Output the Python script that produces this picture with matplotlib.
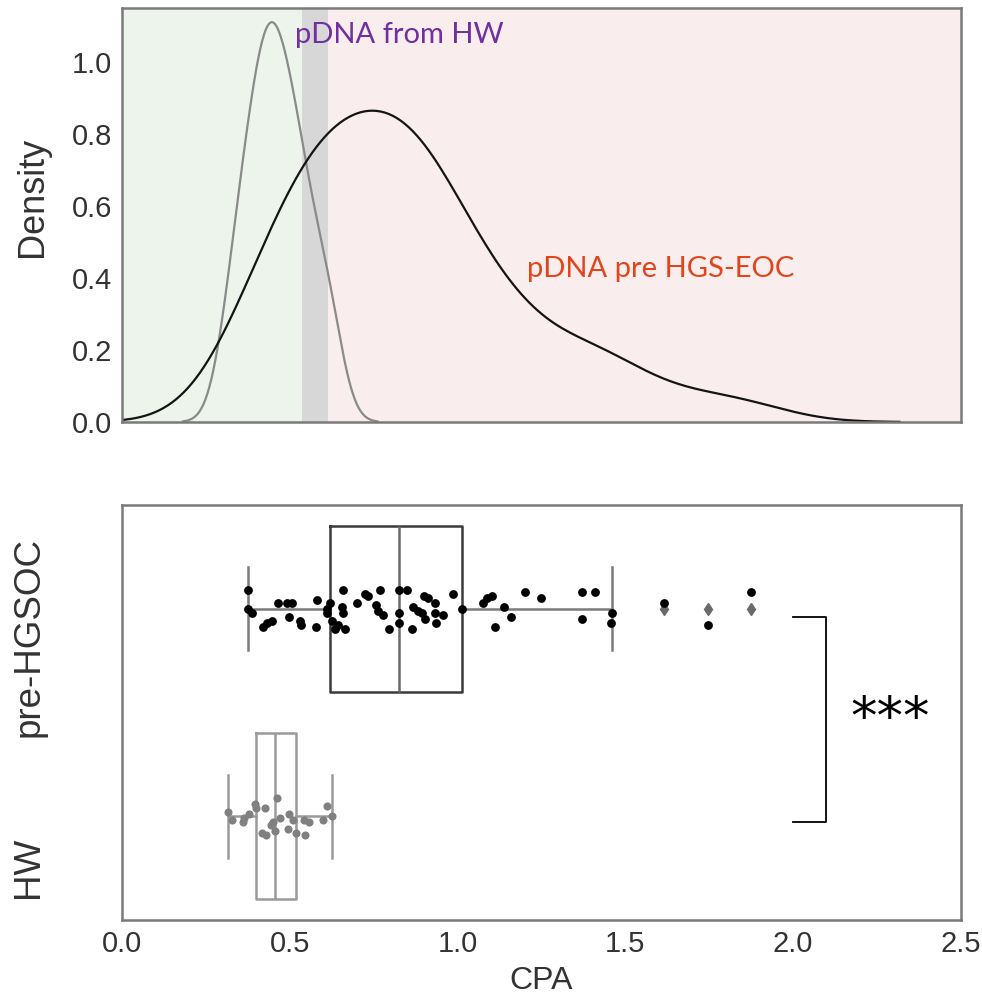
import numpy as np
import pandas as pd
import matplotlib
matplotlib.use('Agg')
import matplotlib.pyplot as plt
import seaborn as sns

plt.rcParams['font.family'] = ['Liberation Sans', 'DejaVu Sans']

# CPA values
pre_cpa = [0.375, 0.375, 0.386, 0.421, 0.431, 0.446, 0.466, 0.491, 0.506, 0.499,
           0.530, 0.533, 0.578, 0.580, 0.610, 0.612, 0.620, 0.625, 0.635, 0.645,
           0.664, 0.659, 0.655, 0.658, 0.699, 0.724, 0.734, 0.769, 0.757, 0.764,
           0.777, 0.796, 0.826, 0.848, 0.826, 0.826, 0.863, 0.868, 0.883, 0.893,
           0.903, 0.900, 0.913, 0.933, 0.933, 0.957, 0.936, 0.987, 1.012, 1.077,
           1.089, 1.102, 1.138, 1.158, 1.112, 1.201, 1.248, 1.370, 1.410, 1.370,
           1.459, 1.456, 1.615, 1.745, 1.874]
# vertical jitter of each point (category units), as seen in the picture
pre_jit = [-0.09, 0.00, 0.02, 0.09, 0.07, 0.06, -0.03, -0.03, -0.03, 0.04,
           0.06, 0.08, 0.09, -0.04, 0.00, 0.02, -0.03, 0.06, 0.10, 0.08,
           0.10, -0.09, -0.01, 0.02, -0.03, -0.07, -0.06, -0.09, -0.02, 0.01,
           0.03, 0.10, -0.09, -0.09, 0.02, 0.07, 0.10, -0.01, 0.01, 0.02,
           0.05, -0.06, -0.05, -0.03, 0.02, 0.03, 0.07, -0.07, 0.00, -0.03,
           -0.05, -0.06, -0.01, 0.04, 0.09, -0.08, -0.05, -0.08, -0.08, 0.05,
           0.02, 0.07, -0.03, 0.08, -0.08]

hw_cpa = [0.317, 0.328, 0.360, 0.365, 0.379, 0.396, 0.400, 0.426, 0.461, 0.417,
          0.430, 0.444, 0.450, 0.457, 0.471, 0.497, 0.494, 0.510, 0.518, 0.544,
          0.542, 0.557, 0.600, 0.611, 0.626]
hw_jit = [-0.02, 0.02, 0.03, 0.01, -0.01, -0.06, -0.04, -0.04, -0.09, 0.08,
          0.09, 0.04, 0.03, 0.07, 0.01, -0.01, 0.06, 0.02, 0.08, 0.09,
          0.02, 0.03, 0.02, -0.05, 0.00]

groups = ['pre-HGSOC', 'HW']
cut_low, cut_high = 0.535, 0.615   # grey zone between HW and pre HGS-EOC

df = pd.DataFrame({'CPA': pre_cpa + hw_cpa,
                   'group': [groups[0]] * len(pre_cpa) + [groups[1]] * len(hw_cpa)})

fig = plt.figure(figsize=(9.82, 9.98), dpi=100)
ax1 = fig.add_axes([0.1242, 0.5772, 0.8544, 0.4148])
ax2 = fig.add_axes([0.1242, 0.0782, 0.8544, 0.4158])

# --- density panel
ax1.axvspan(0, cut_low, color='#ecf4ec', lw=0, zorder=0)
ax1.axvspan(cut_low, cut_high, color='#d7d7d7', lw=0, zorder=0)
ax1.axvspan(cut_high, 2.5, color='#f9eded', lw=0, zorder=0)
sns.kdeplot(data=df, x='CPA', hue='group', hue_order=groups,
            palette={'pre-HGSOC': '#141414', 'HW': '#8a8a8a'},
            common_norm=True, legend=False, ax=ax1, linewidth=1.6)
for ln in ax1.lines:
    if ln.get_color() == '#8a8a8a':
        ln.set_linewidth(1.3)
ax1.set_xlim(0, 2.5)
ax1.set_ylim(0, 1.15)
ax1.set_xticks([])
ax1.set_xlabel('')
ax1.set_yticks(np.arange(0, 1.01, 0.2))
ax1.set_yticklabels([f'{v:.1f}' for v in np.arange(0, 1.01, 0.2)])
ax1.tick_params(axis='y', length=0, labelsize=21, pad=7, labelcolor='#333333')
ax1.set_ylabel('Density', fontsize=26, color='#333333', va='center')
ax1.yaxis.set_label_coords(-0.107, 0.543)
ax1.text(0.515, 1.052, 'pDNA from HW', color='#7030a0', fontsize=21,
         family='Lato', va='baseline')
ax1.text(1.207, 0.403, 'pDNA pre HGS-EOC', color='#e0461b', fontsize=21,
         family='Lato', va='baseline')

# --- box + strip panel
box_styles = [('#3a3a3a', '#6a6a6a', '#7a7a7a'), ('#9a9a9a', '#9a9a9a', '#9a9a9a')]
for pos, vals, (edge, med, whisk) in zip([0, 1], [pre_cpa, hw_cpa], box_styles):
    ax2.boxplot([vals], positions=[pos], widths=0.8, orientation='horizontal',
                capwidths=0.4, whis=1.5,
                boxprops=dict(color=edge, lw=1.8),
                medianprops=dict(color=med, lw=1.8),
                whiskerprops=dict(color=whisk, lw=1.8),
                capprops=dict(color=whisk, lw=1.8),
                flierprops=dict(marker='d', markerfacecolor='#6a6a6a',
                                markeredgecolor='#6a6a6a', markersize=6))
ax2.scatter(pre_cpa, 0 + np.array(pre_jit), s=40, color='black', lw=0, zorder=3)
ax2.scatter(hw_cpa, 1 + np.array(hw_jit), s=34, color='#808080', lw=0, zorder=3)

ax2.set_xlim(0, 2.5)
ax2.set_ylim(1.5, -0.5)
ax2.set_xticks(np.arange(0, 2.51, 0.5))
ax2.set_xticklabels([f'{v:.1f}' for v in np.arange(0, 2.51, 0.5)])
ax2.set_yticks([])
ax2.tick_params(axis='x', length=0, labelsize=21, pad=7, labelcolor='#333333')
ax2.set_xlabel('CPA', fontsize=23, color='#333333', va='center')
ax2.xaxis.set_label_coords(0.499, -0.147)
ylab_tr = ax2.get_yaxis_transform()
ax2.text(-0.111, 0.135, groups[0], rotation=90, ha='center', va='center',
         fontsize=26.5, color='#333333', transform=ylab_tr)
ax2.text(-0.111, 1.245, groups[1], rotation=90, ha='center', va='center',
         fontsize=26.5, color='#333333', transform=ylab_tr)

# significance bracket
ax2.plot([2.0, 2.098, 2.098, 2.0], [0.04, 0.04, 1.03, 1.03], color='black',
         lw=1.3, solid_joinstyle='round')
ax2.text(2.29, 0.53, '***', fontsize=38, family='DejaVu Sans',
         ha='center', va='center')

for ax in (ax1, ax2):
    for sp in ax.spines.values():
        sp.set_color('#7a7a7a')
        sp.set_linewidth(1.8)

fig.savefig('out.png', dpi=100)
